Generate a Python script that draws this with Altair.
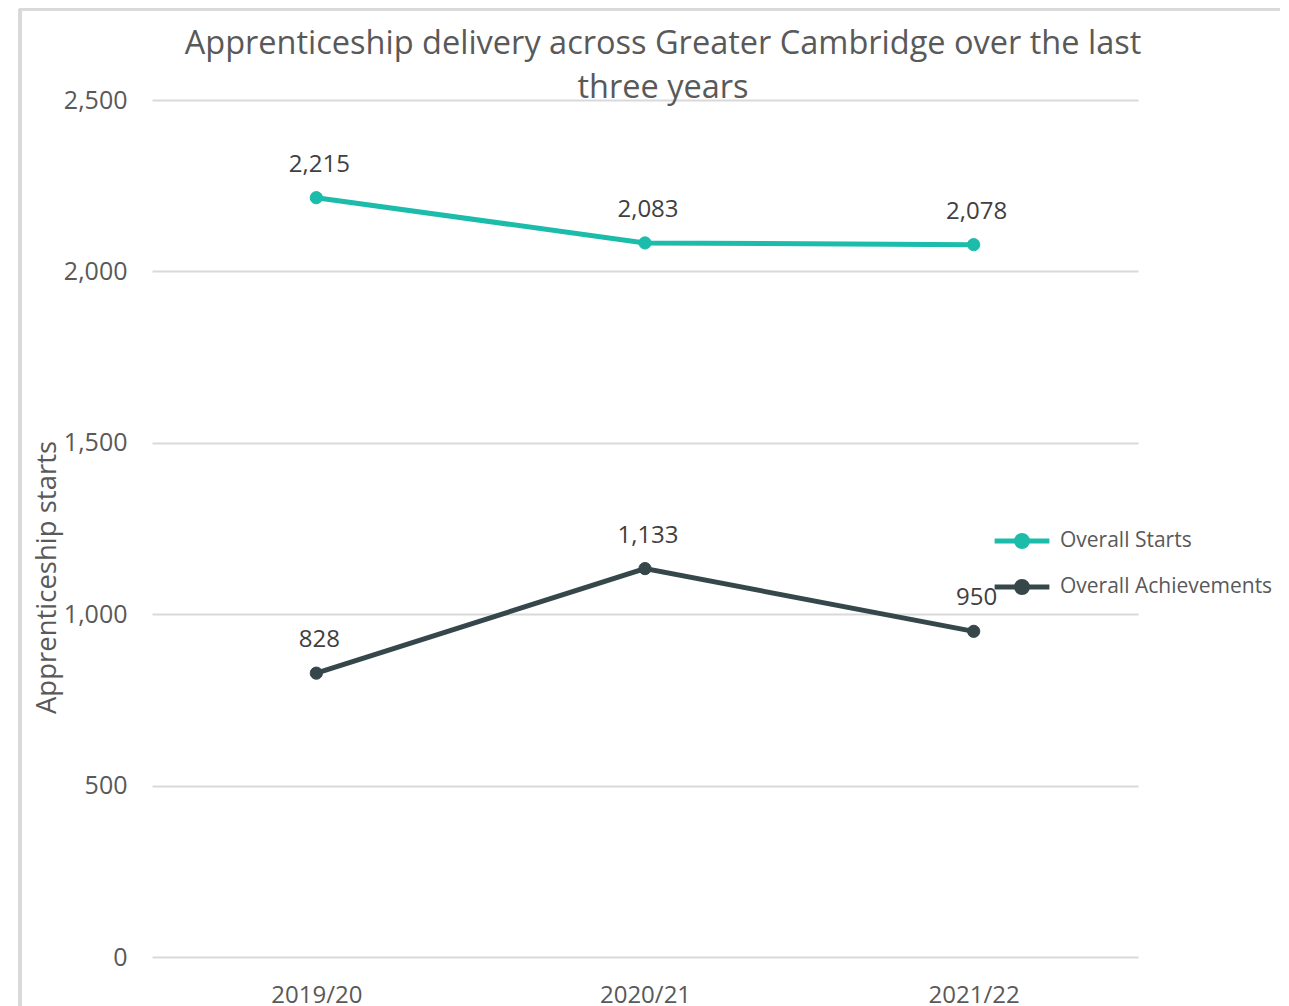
import altair as alt
import pandas as pd

years = ["2019/20", "2020/21", "2021/22"]
series_names = ["Overall Starts", "Overall Achievements"]
starts = [2215, 2083, 2078]
achievements = [828, 1133, 950]
colors = ["#1bbcaa", "#36474b"]

rows = []
for y, v in zip(years, starts):
    rows.append({"year": y, "series": series_names[0], "value": v})
for y, v in zip(years, achievements):
    rows.append({"year": y, "series": series_names[1], "value": v})
df = pd.DataFrame(rows)

font = "Open Sans"
x = alt.X("year:N", sort=years, title=None,
          scale=alt.Scale(type="point", padding=0.5),
          axis=alt.Axis(labelFontSize=24, labelColor="#595959", labelFont=font,
                        ticks=False, domain=False, labelPadding=26, labelAngle=0))
y = alt.Y("value:Q", title="Apprenticeship starts",
          scale=alt.Scale(domain=[0, 2500], nice=False),
          axis=alt.Axis(values=[0, 500, 1000, 1500, 2000, 2500], format=",.0f",
                        labelFontSize=25, labelColor="#595959", labelFont=font,
                        ticks=False, domain=False, labelPadding=25,
                        gridColor="#d9d9d9", gridWidth=2,
                        titleFontSize=27.5, titleColor="#595959", titleFont=font,
                        titleFontWeight="normal", titleX=-91, titleY=477))
sc = alt.Scale(domain=series_names, range=colors)
legend = alt.Legend(title=None, orient="none", legendX=840, legendY=411,
                    symbolType="M -1 0 L 1 0 M 0.2 0 A 0.2 0.2 0 1 1 -0.2 0 A 0.2 0.2 0 1 1 0.2 0 Z",
                    symbolSize=3000, symbolStrokeWidth=5, labelFontSize=21,
                    labelColor="#595959", labelFont=font, rowPadding=-13, labelOffset=8,
                    labelLimit=400)

base = alt.Chart(df).encode(x=x, y=y)
line = base.mark_line(strokeWidth=5).encode(
    stroke=alt.Stroke("series:N", scale=sc, legend=legend, sort=series_names))
pts = base.mark_point(filled=True, size=150, opacity=1, strokeWidth=1).encode(
    fill=alt.Fill("series:N", scale=sc, legend=legend, sort=series_names),
    stroke=alt.Stroke("series:N", scale=sc, legend=legend, sort=series_names))
labels = base.mark_text(dy=-33, dx=3, fontSize=24, color="#404040", font=font).encode(
    text=alt.Text("value:Q", format=",.0f"))

border_l = alt.Chart(df).mark_rule(color="#d9d9d9", strokeWidth=3, clip=False).encode(
    x=alt.value(-132), y=alt.value(-91), y2=alt.value(910))
border_t = alt.Chart(df).mark_rule(color="#d9d9d9", strokeWidth=3, clip=False).encode(
    x=alt.value(-133), x2=alt.value(1150), y=alt.value(-91))

chart = alt.layer(border_l, border_t, line, pts, labels).properties(
    width=986, height=857,
    background="white",
    title=alt.TitleParams(
        ["Apprenticeship delivery across Greater Cambridge over the last", "three years"],
        fontSize=32.5, font=font, color="#595959", fontWeight="normal",
        lineHeight=44, anchor="middle", dx=18, offset=-97),
    autosize=alt.AutoSizeParams(type="none"),
    padding={"left": 144, "top": 92, "right": 142, "bottom": 60},
).configure_view(stroke=None)

chart.save("out.html", embed_options={"renderer": "svg", "actions": False})
